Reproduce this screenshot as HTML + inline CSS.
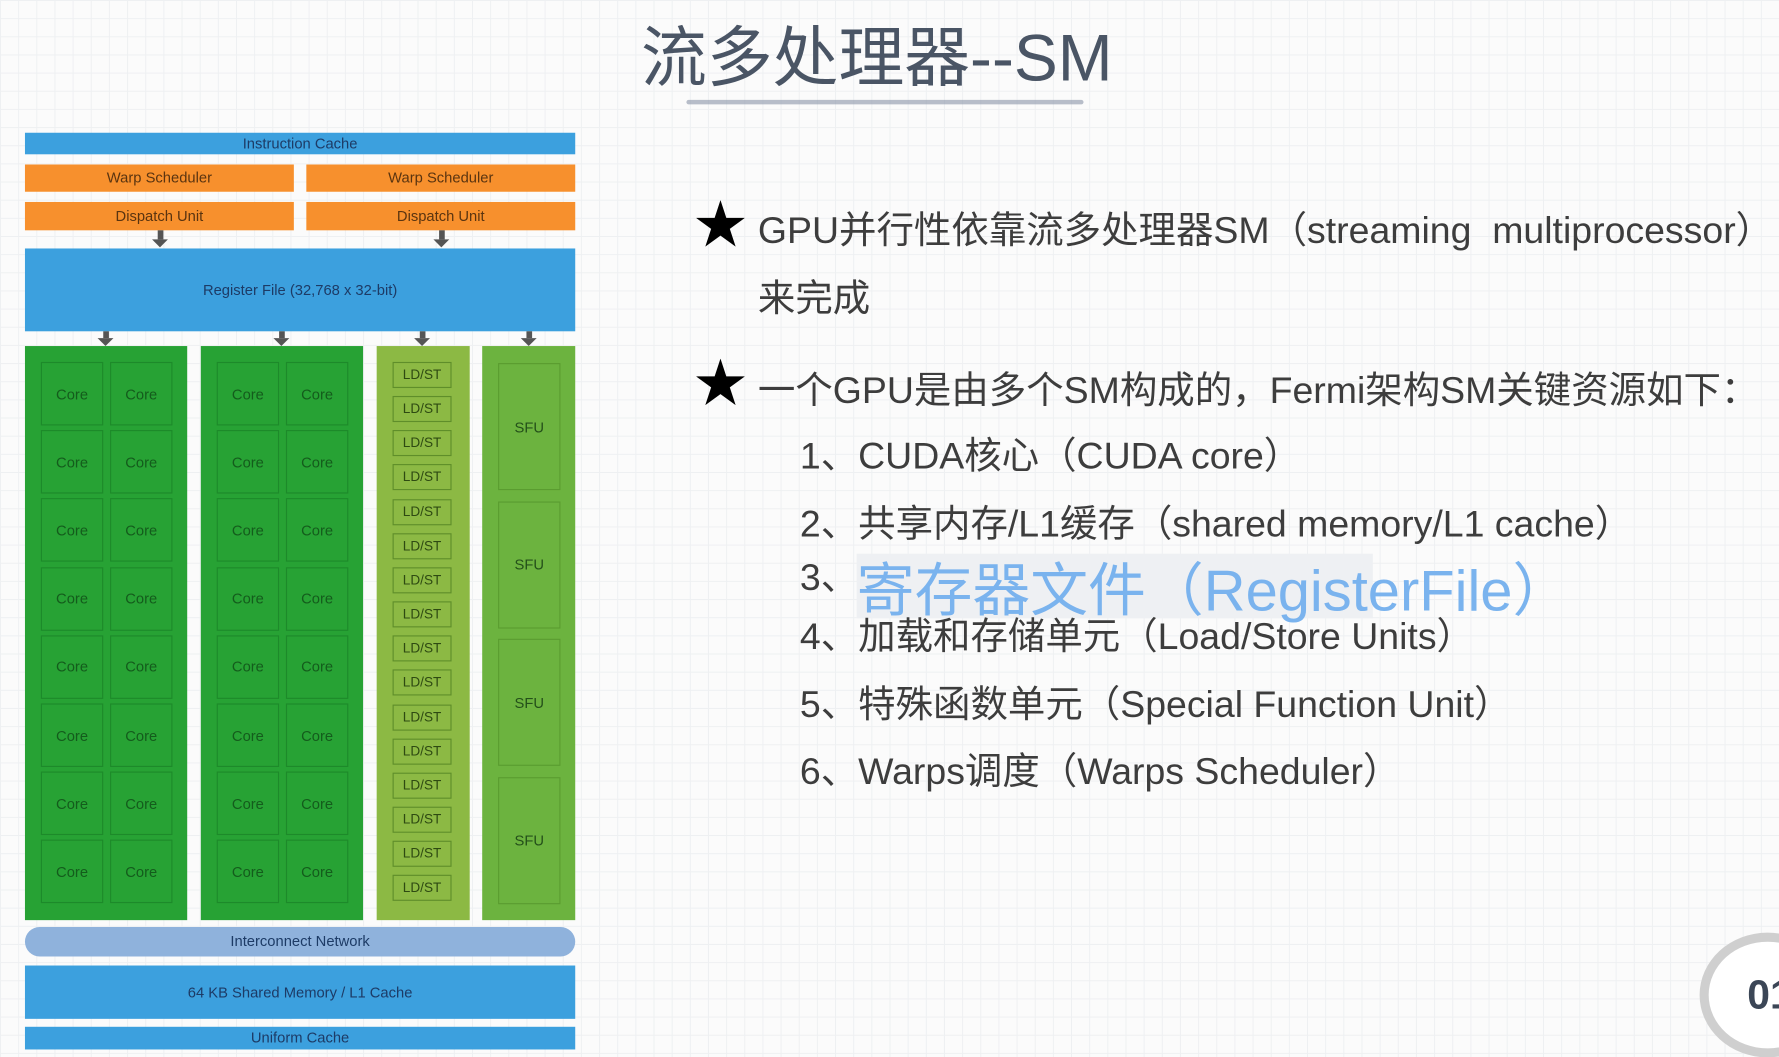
<!DOCTYPE html>
<html><head><meta charset="utf-8"><style>
html,body{margin:0;padding:0;width:1779px;height:1057px;overflow:hidden;background:#fbfbfb}
#s{position:absolute;left:0;top:0;width:1568px;height:932px;transform:scale(1.13457);transform-origin:0 0;
background-color:#fbfbfb;background-image:linear-gradient(#eef0f2 1px,transparent 1px),linear-gradient(90deg,#eef0f2 1px,transparent 1px);background-size:16px 16px;
font-family:"Liberation Sans","Noto Sans CJK SC",sans-serif}
.a{position:absolute;box-sizing:border-box}
.bl{background:#3ca0de;color:#1d3b66;font-size:13px;text-align:center}
.or{background:#f7902d;color:#5a3410;font-size:13px;text-align:center}
.cell{position:absolute;box-sizing:border-box;border:1px solid #1d8a2a;color:#145c1c;font-size:13px;text-align:center;display:flex;align-items:center;justify-content:center}
.ld{position:absolute;box-sizing:border-box;border:1px solid #5f8e2a;color:#2e4a12;font-size:12px;text-align:center;line-height:20px}
.t{position:absolute;color:#3d3d3d;font-size:33px;white-space:nowrap}
.arr{position:absolute;width:0;height:0;border-left:7px solid transparent;border-right:7px solid transparent;border-top:7px solid #555}
.st{position:absolute;width:5px;background:#555}
</style></head><body><div id="s">
<div class="a" style="left:565px;top:4px;font-size:58px;color:#4a5565;white-space:nowrap">流多处理器--SM</div>
<div class="a" style="left:605px;top:88px;width:350px;height:4px;background:#8a94a8;opacity:.6;border-radius:2px"></div>

<div class="a bl" style="left:22px;top:117px;width:485px;height:19px;line-height:19px">Instruction Cache</div>
<div class="a or" style="left:22px;top:145px;width:237px;height:24px;line-height:24px">Warp Scheduler</div>
<div class="a or" style="left:270px;top:145px;width:237px;height:24px;line-height:24px">Warp Scheduler</div>
<div class="a or" style="left:22px;top:178px;width:237px;height:25px;line-height:25px">Dispatch Unit</div>
<div class="a or" style="left:270px;top:178px;width:237px;height:25px;line-height:25px">Dispatch Unit</div>
<div class="st" style="left:139px;top:203px;height:8px"></div><div class="arr" style="left:134px;top:211px"></div>
<div class="st" style="left:387px;top:203px;height:8px"></div><div class="arr" style="left:382px;top:211px"></div>
<div class="a bl" style="left:22px;top:219px;width:485px;height:73px;line-height:73px">Register File (32,768 x 32-bit)</div>
<div class="st" style="left:91px;top:292px;height:6px"></div><div class="arr" style="left:86px;top:298px"></div>
<div class="st" style="left:246px;top:292px;height:6px"></div><div class="arr" style="left:241px;top:298px"></div>
<div class="st" style="left:370px;top:292px;height:6px"></div><div class="arr" style="left:365px;top:298px"></div>
<div class="st" style="left:464px;top:292px;height:6px"></div><div class="arr" style="left:459px;top:298px"></div>

<div class="a" style="left:22px;top:305px;width:143px;height:506px;background:#27a234"></div>
<div class="a" style="left:177px;top:305px;width:143px;height:506px;background:#27a234"></div>
<div class="a" style="left:332px;top:305px;width:82px;height:506px;background:#8cb944"></div>
<div class="a" style="left:425px;top:305px;width:82px;height:506px;background:#6cb33f"></div>
<div id="cores"></div>

<div class="a" style="left:22px;top:817px;width:485px;height:26px;line-height:26px;border-radius:13px;background:#8fb2dc;color:#1d3b66;font-size:13px;text-align:center">Interconnect Network</div>
<div class="a bl" style="left:22px;top:851px;width:485px;height:47px;line-height:47px">64 KB Shared Memory / L1 Cache</div>
<div class="a bl" style="left:22px;top:905px;width:485px;height:20px;line-height:20px">Uniform Cache</div>

<div class="t" style="left:612px;top:162px;font-size:46px;color:#000">★</div>
<div class="t" style="left:668px;top:176px">GPU并行性依靠流多处理器SM（streaming&nbsp; multiprocessor）</div>
<div class="t" style="left:668px;top:236px">来完成</div>
<div class="t" style="left:612px;top:302px;font-size:46px;color:#000">★</div>
<div class="t" style="left:668px;top:317px">一个GPU是由多个SM构成的，Fermi架构SM关键资源如下：</div>
<div class="t" style="left:705px;top:375px">1、CUDA核心（CUDA core）</div>
<div class="t" style="left:705px;top:435px">2、共享内存/L1缓存（shared memory/L1 cache）</div>
<div class="a" style="left:755px;top:488px;width:455px;height:57px;background:#eef0f3"></div>
<div class="t" style="left:705px;top:482px">3、</div>
<div class="t" style="left:755px;top:479px;font-size:51px;color:#7ab3ee">寄存器文件（RegisterFile）</div>
<div class="t" style="left:705px;top:534px">4、加载和存储单元（Load/Store Units）</div>
<div class="t" style="left:705px;top:594px">5、特殊函数单元（Special Function Unit）</div>
<div class="t" style="left:705px;top:653px">6、Warps调度（Warps Scheduler）</div>

<div class="a" style="left:1498px;top:822px;width:120px;height:110px;border-radius:50%;border:8px solid #cfcfcf;background:#fff"></div>
<div class="t" style="left:1540px;top:856px;font-size:36px;font-weight:bold;color:#3b4656">01</div>
</div>
<script>
var h='';
for(var r=0;r<8;r++){var y=319+r*60.2;
[[36],[97],[191],[252]].forEach(function(c){h+='<div class="cell" style="left:'+c[0]+'px;top:'+y+'px;width:55px;height:56px">Core</div>';});}
for(var i=0;i<16;i++){var y=319+i*30.15;h+='<div class="ld" style="left:346px;top:'+y+'px;width:52px;height:23px">LD/ST</div>';}
for(var j=0;j<4;j++){var y=320+j*121.5;h+='<div class="cell" style="left:439px;top:'+y+'px;width:55px;height:112px;border-color:#5a9c30;color:#24501a">SFU</div>';}
document.getElementById('cores').outerHTML=h;
</script>
</body></html>
